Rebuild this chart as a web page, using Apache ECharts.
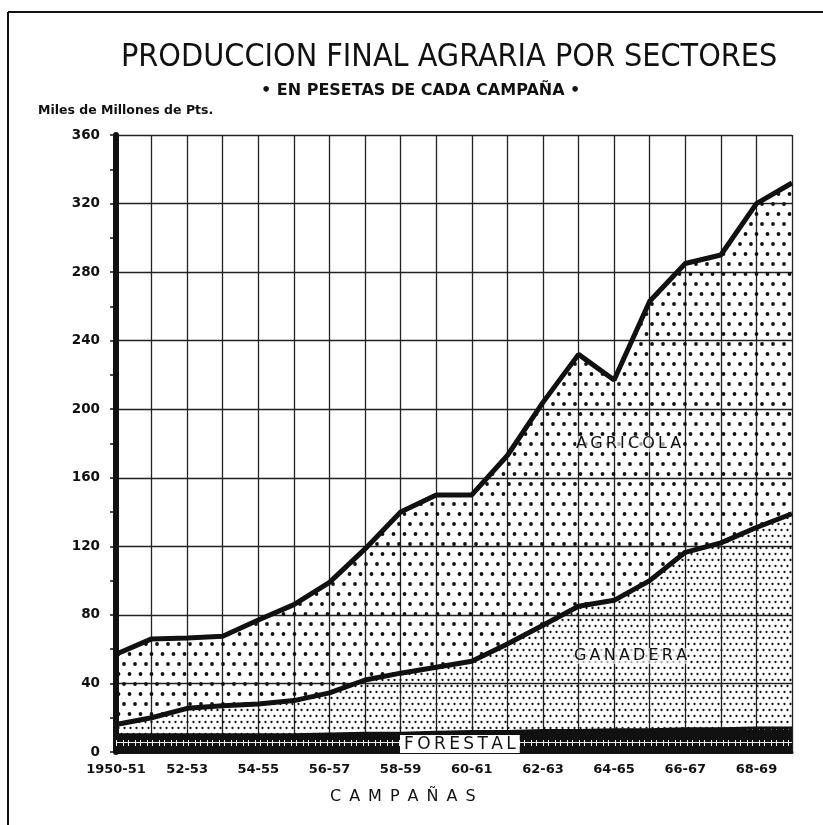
<!DOCTYPE html>
<html>
<head>
<meta charset="UTF-8">
<title>Produccion final agraria por sectores</title>
<script src="https://cdn.jsdelivr.net/npm/echarts@6/dist/echarts.min.js"></script>
<style>
  body{margin:0;background:#fff}
</style>
</head>
<body>
<div id="main" style="width:823px;height:825px"></div>
<script type="text/javascript">
// campañas 1950-51 .. 1969-70
var campanas = ['1950-51','51-52','52-53','53-54','54-55','55-56','56-57','57-58','58-59','59-60',
                '60-61','61-62','62-63','63-64','64-65','65-66','66-67','67-68','68-69','69-70'];
// lineas (miles de millones de pts, acumuladas)
var lineaTotal    = [57, 66, 66.5, 67.5, 77, 86, 99, 118.5, 140, 150, 150, 173, 204, 232, 217, 263, 285, 290, 320, 332];
var lineaGanadera = [16, 20, 25.5, 27, 28, 30, 34.5, 42, 46, 49.5, 53, 63, 74, 85, 88.5, 100, 116.5, 122, 131, 139];
var forestal      = [10, 10, 10, 10, 10, 10, 10.5, 11, 11, 11.5, 12, 12, 12.5, 12.5, 13, 13, 13.5, 13.5, 14, 14];
var yTicks = [0, 40, 80, 120, 160, 200, 240, 280, 320, 360];

// valores por sector para apilar
var ganadera = lineaGanadera.map(function(v, i){ return v - forestal[i]; });
var agricola = lineaTotal.map(function(v, i){ return v - lineaGanadera[i]; });

// tramas de puntos
function trama(w, h, bg, dibujar){
	var c = document.createElement('canvas');
	c.width = w; c.height = h;
	var ctx = c.getContext('2d');
	if (bg) { ctx.fillStyle = bg; ctx.fillRect(0, 0, w, h); }
	dibujar(ctx);
	return c;
}
function punto(ctx, x, y, r){
	ctx.beginPath(); ctx.arc(x, y, r, 0, Math.PI * 2); ctx.fill();
}
var tramaAgricola = trama(11, 20, null, function(ctx){
	ctx.fillStyle = '#111';
	punto(ctx, 3, 4, 1.9);
	punto(ctx, 8.5, 14, 1.9);
});
var tramaGanadera = trama(6, 12, null, function(ctx){
	ctx.fillStyle = '#111';
	punto(ctx, 1.5, 2, 1.15);
	punto(ctx, 4.5, 8, 1.15);
});
var tramaForestal = trama(12, 16, '#111', function(ctx){
	ctx.strokeStyle = '#eee'; ctx.lineWidth = 1;
	ctx.beginPath();
	ctx.moveTo(0, 6.5); ctx.lineTo(12, 6.5);
	ctx.moveTo(3.5, 4); ctx.lineTo(3.5, 10);
	ctx.moveTo(8.5, 4); ctx.lineTo(8.5, 10);
	ctx.stroke();
});

var myEcharts = echarts.init(document.getElementById('main'));
var fuenteTicks = 'DejaVu Sans';
var th = '\u2009'; // espacio fino entre letras

function espaciar(txt, sep){ return txt.split('').join(sep); }

var option = {
	animation: false,
	backgroundColor: '#fff',
	title: [{
		text: 'PRODUCCION FINAL AGRARIA POR SECTORES',
		left: 116, top: 37,
		textStyle: { fontFamily: 'Liberation Sans Narrow, DejaVu Sans Condensed, sans-serif', fontWeight: 'normal', fontSize: 32, color: '#111' }
	}, {
		text: '• EN PESETAS DE CADA CAMPAÑA •',
		left: 256, top: 78,
		textStyle: { fontFamily: 'DejaVu Sans', fontWeight: 'bold', fontSize: 16, color: '#111' }
	}],
	grid: { left: 116, right: 31, top: 135, bottom: 73 },
	xAxis: {
		type: 'category',
		boundaryGap: false,
		data: campanas,
		axisLine: { lineStyle: { color: '#111', width: 3 } },
		axisTick: { show: false },
		axisLabel: {
			interval: function(i){ return i % 2 === 0; },
			margin: 11,
			color: '#111', fontFamily: fuenteTicks, fontWeight: 'bold', fontSize: 13
		},
		splitLine: { show: true, interval: 0, lineStyle: { color: '#222', width: 1.3 } }
	},
	yAxis: {
		type: 'value',
		min: 0, max: 360, interval: 40,
		axisLine: { show: true, lineStyle: { color: '#111', width: 6 } },
		axisTick: { show: true, length: 6, lineStyle: { color: '#111', width: 1.5 } },
		minorTick: { show: true, splitNumber: 2, length: 6, lineStyle: { color: '#111', width: 1.5 } },
		axisLabel: {
			margin: 16,
			color: '#111', fontFamily: fuenteTicks, fontWeight: 'bold', fontSize: 13.5,
			formatter: function(v){ return yTicks.indexOf(v) >= 0 ? String(v) : ''; }
		},
		splitLine: { show: true, lineStyle: { color: '#222', width: 1.3 } }
	},
	series: [{
		name: 'FORESTAL', type: 'line', stack: 'total',
		data: forestal, symbol: 'none',
		lineStyle: { color: '#111', width: 3 },
		areaStyle: { color: { image: tramaForestal, repeat: 'repeat' }, opacity: 1 }
	}, {
		name: 'GANADERA', type: 'line', stack: 'total',
		data: ganadera, symbol: 'none',
		lineStyle: { color: '#111', width: 5 },
		areaStyle: { color: { image: tramaGanadera, repeat: 'repeat' }, opacity: 1 }
	}, {
		name: 'AGRICOLA', type: 'line', stack: 'total',
		data: agricola, symbol: 'none',
		lineStyle: { color: '#111', width: 5 },
		areaStyle: { color: { image: tramaAgricola, repeat: 'repeat' }, opacity: 1 }
	}],
	graphic: [
		// marco
		{ type: 'line', shape: { x1: 8, y1: 12, x2: 823, y2: 12 }, style: { stroke: '#111', lineWidth: 2 } },
		{ type: 'line', shape: { x1: 8, y1: 12, x2: 8, y2: 825 }, style: { stroke: '#111', lineWidth: 2 } },
		{ type: 'text', left: 38, top: 104, style: { text: 'Miles de Millones de Pts.', fill: '#111', font: 'bold 12.5px DejaVu Sans' } },
		{ type: 'text', left: 330, top: 789, style: { text: espaciar('CAMPAÑAS', '\u2002'), fill: '#111', font: '16px DejaVu Sans' } },
		{ type: 'text', left: 576, top: 436, z: 10, style: { text: espaciar('AGRICOLA', th), fill: '#111', font: '16px DejaVu Sans', backgroundColor: 'rgba(255,255,255,0.6)' } },
		{ type: 'text', left: 574, top: 648, z: 10, style: { text: espaciar('GANADERA', th), fill: '#111', font: '16px DejaVu Sans', backgroundColor: 'rgba(255,255,255,0.6)' } },
		{ type: 'text', left: 400, top: 735, z: 10, style: { text: espaciar('FORESTAL', th), fill: '#111', font: '17px DejaVu Sans', backgroundColor: '#fff', padding: [1, 4, 0, 4] } }
	]
};
myEcharts.setOption(option);
</script>
</body>
</html>
